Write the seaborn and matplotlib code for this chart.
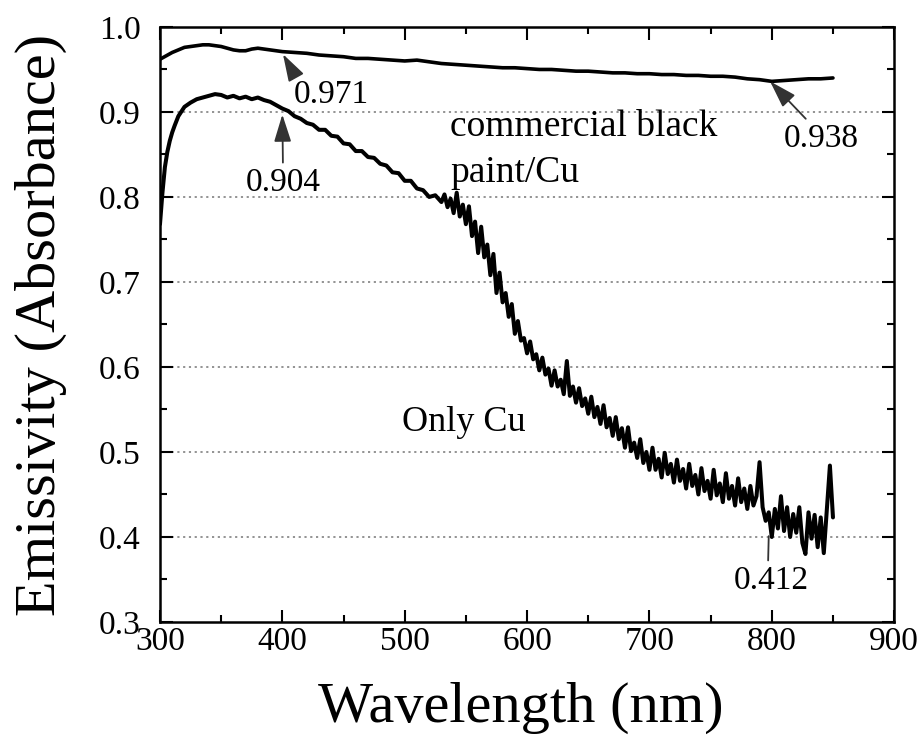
import numpy as np
import pandas as pd
import matplotlib
matplotlib.use("Agg")
import matplotlib.pyplot as plt
import seaborn as sns
from matplotlib.ticker import MultipleLocator

# ---------------- data ----------------
paint_wl = [300, 305, 310, 315, 320, 325, 330, 335, 340, 345, 350, 355, 360, 365, 370,
            375, 380, 385, 390, 395, 400, 410, 420, 430, 440, 450, 460, 470, 480, 490,
            500, 510, 520, 530, 540, 550, 560, 570, 580, 590, 600, 610, 620, 630, 640,
            650, 660, 670, 680, 690, 700, 710, 720, 730, 740, 750, 760, 770, 780, 790,
            800, 810, 820, 830, 840, 850]
paint_em = [0.962, 0.966, 0.970, 0.973, 0.976, 0.977, 0.978, 0.979, 0.979, 0.978, 0.977,
            0.975, 0.973, 0.972, 0.972, 0.974, 0.975, 0.974, 0.973, 0.972, 0.971, 0.970,
            0.969, 0.967, 0.966, 0.965, 0.963, 0.963, 0.962, 0.961, 0.960, 0.961, 0.959,
            0.957, 0.956, 0.955, 0.954, 0.953, 0.952, 0.952, 0.951, 0.950, 0.950, 0.949,
            0.948, 0.948, 0.947, 0.946, 0.946, 0.945, 0.945, 0.944, 0.944, 0.943, 0.943,
            0.942, 0.942, 0.941, 0.939, 0.938, 0.936, 0.937, 0.938, 0.939, 0.939, 0.940]

cu_wl = [300, 302, 304, 306, 308, 310, 312, 315, 320, 325, 330, 335, 340, 345, 350, 355,
         360, 365, 370, 375, 380, 385, 390, 395, 400, 405, 410, 415, 420, 425, 430, 435,
         440, 445, 450, 455, 460, 465, 470, 475, 480, 485, 490, 495, 500, 505, 510, 515,
         520, 525, 530,
         532.5, 535, 537.5, 540, 542.5, 545, 547.5, 550, 552.5, 555, 557.5, 560, 562.5,
         565, 567.5, 570, 572.5, 575, 577.5, 580, 582.5, 585, 587.5, 590, 592.5, 595,
         597.5, 600, 602.5, 605, 607.5, 610, 612.5, 615, 617.5, 620, 622.5, 625, 627.5,
         630, 632.5, 635, 637.5, 640, 642.5, 645, 647.5, 650, 652.5, 655, 657.5, 660,
         662.5, 665, 667.5, 670, 672.5, 675, 677.5, 680, 682.5, 685, 687.5, 690, 692.5,
         695, 697.5, 700, 702.5, 705, 707.5, 710, 712.5, 715, 717.5, 720, 722.5, 725,
         727.5, 730, 732.5, 735, 737.5, 740, 742.5, 745, 747.5, 750, 752.5, 755, 757.5,
         760, 762.5, 765, 767.5, 770, 772.5, 775, 777.5, 780, 782.5, 785, 787.5, 790,
         792.5, 795, 797.5, 800, 802.5, 805, 807.5, 810, 812.5, 815, 817.5, 820, 822.5,
         825, 827.5, 830, 832.5, 835, 837.5, 840, 842.5, 845, 847.5, 850]
cu_em = [0.768, 0.805, 0.835, 0.853, 0.866, 0.876, 0.884, 0.895, 0.906, 0.911, 0.915,
         0.917, 0.919, 0.921, 0.920, 0.917, 0.919, 0.916, 0.918, 0.915, 0.917, 0.914,
         0.912, 0.908, 0.904, 0.901, 0.895, 0.892, 0.887, 0.885, 0.879, 0.879, 0.872,
         0.871, 0.863, 0.862, 0.854, 0.854, 0.847, 0.846, 0.839, 0.837, 0.829, 0.828,
         0.819, 0.819, 0.810, 0.808, 0.800, 0.802, 0.794,
         0.803, 0.788, 0.798, 0.781, 0.805, 0.777, 0.791, 0.768, 0.789, 0.754, 0.771,
         0.734, 0.765, 0.729, 0.744, 0.708, 0.733, 0.687, 0.711, 0.676, 0.687, 0.659,
         0.674, 0.639, 0.654, 0.631, 0.634, 0.616, 0.630, 0.609, 0.615, 0.596, 0.611,
         0.591, 0.598, 0.578, 0.596, 0.577, 0.585, 0.568, 0.607, 0.566, 0.577, 0.558,
         0.575, 0.554, 0.563, 0.545, 0.565, 0.541, 0.553, 0.533, 0.555, 0.529, 0.540,
         0.519, 0.541, 0.515, 0.528, 0.505, 0.529, 0.501, 0.511, 0.493, 0.515, 0.487,
         0.500, 0.479, 0.505, 0.479, 0.492, 0.470, 0.499, 0.474, 0.486, 0.464, 0.491,
         0.466, 0.480, 0.457, 0.486, 0.460, 0.473, 0.450, 0.481, 0.454, 0.466, 0.445,
         0.479, 0.449, 0.463, 0.441, 0.475, 0.445, 0.460, 0.437, 0.469, 0.441, 0.457,
         0.433, 0.460, 0.437, 0.448, 0.488, 0.435, 0.419, 0.429, 0.400, 0.433, 0.410,
         0.448, 0.407, 0.435, 0.400, 0.427, 0.405, 0.435, 0.393, 0.380, 0.429, 0.398,
         0.426, 0.388, 0.423, 0.381, 0.432, 0.484, 0.423]

# annotations: label, arrow tip (wl, value), text centre (wl, value), arrow start on text
annot_labels = ["0.971", "0.904", "0.938", "0.412"]
annot_point_wl = [400.5, 400.0, 798.6, 797.5]
annot_point_em = [0.968, 0.897, 0.936, 0.401]
annot_text_wl = [439.8, 400.5, 840.3, 800.0]
annot_text_em = [0.920, 0.817, 0.869, 0.349]
annot_relpos = [(0.05, 1.0), (0.5, 1.0), (0.35, 1.0), (0.45, 1.0)]
annot_heads = [True, True, True, False]

x_ticks = [300, 400, 500, 600, 700, 800, 900]
y_ticks = [0.3, 0.4, 0.5, 0.6, 0.7, 0.8, 0.9, 1.0]

# ---------------- styling ----------------
sns.set_theme(style="ticks")
plt.rcParams["font.family"] = ["Liberation Serif", "DejaVu Serif"]
plt.rcParams["text.color"] = "black"
plt.rcParams["axes.labelcolor"] = "black"
plt.rcParams["xtick.color"] = "black"
plt.rcParams["ytick.color"] = "black"

fig = plt.figure(figsize=(9.2, 7.51), dpi=100)
ax = fig.add_axes([0.1739, 0.1718, 0.798, 0.7923])

df_paint = pd.DataFrame({"wl": paint_wl, "em": paint_em})
df_cu = pd.DataFrame({"wl": cu_wl, "em": cu_em})
sns.lineplot(data=df_paint, x="wl", y="em", ax=ax, color="black", lw=2.6,
             estimator=None, sort=False)
sns.lineplot(data=df_cu, x="wl", y="em", ax=ax, color="black", lw=2.9,
             estimator=None, sort=False)

ax.set_xlim(300, 900)
ax.set_ylim(0.3, 1.0)
ax.set_xticks(x_ticks)
ax.set_yticks(y_ticks)
ax.set_xticklabels([str(t) for t in x_ticks])
ax.set_yticklabels([f"{t:.1f}" for t in y_ticks])
ax.xaxis.set_minor_locator(MultipleLocator(50))
ax.yaxis.set_minor_locator(MultipleLocator(0.05))

for gy in y_ticks[1:-1]:
    ax.axhline(gy, color="#8a8a8a", lw=1.3, ls=(0, (1.2, 2.0)), zorder=0)

ax.tick_params(which="both", direction="in", top=True, right=True, width=1.5,
               colors="black")
ax.tick_params(which="major", length=9)
ax.tick_params(which="minor", length=5)
ax.tick_params(axis="x", which="major", labelsize=24, pad=3)
ax.tick_params(axis="y", which="major", labelsize=24, pad=14)
for s in ax.spines.values():
    s.set_linewidth(1.8)
    s.set_color("black")

ax.set_xlabel("Wavelength (nm)", fontsize=42, color="black")
ax.set_ylabel("Emissivity (Absorbance)", fontsize=42, color="black")
ax.xaxis.set_label_coords(0.492, -0.1)
ax.yaxis.set_label_coords(-0.127, 0.5)

for lab, pw, pe, tw, te, rp, hd in zip(annot_labels, annot_point_wl, annot_point_em,
                                       annot_text_wl, annot_text_em, annot_relpos,
                                       annot_heads):
    style = "-|>,head_length=0.7,head_width=0.22" if hd else "-"
    ax.annotate(lab, xy=(pw, pe), xytext=(tw, te), fontsize=24, ha="center",
                va="center", color="black",
                arrowprops=dict(arrowstyle=style, color="#333333", lw=1.3,
                                shrinkA=1, shrinkB=0, relpos=rp))

ax.text(537.1, 0.872, "commercial black", fontsize=27, ha="left", va="baseline",
        color="black")
ax.text(537.1, 0.8176, "paint/Cu", fontsize=27, ha="left", va="baseline",
        color="black")
ax.text(497.8, 0.5247, "Only Cu", fontsize=26, ha="left", va="baseline",
        color="black")

fig.savefig("out.png", dpi=100)
